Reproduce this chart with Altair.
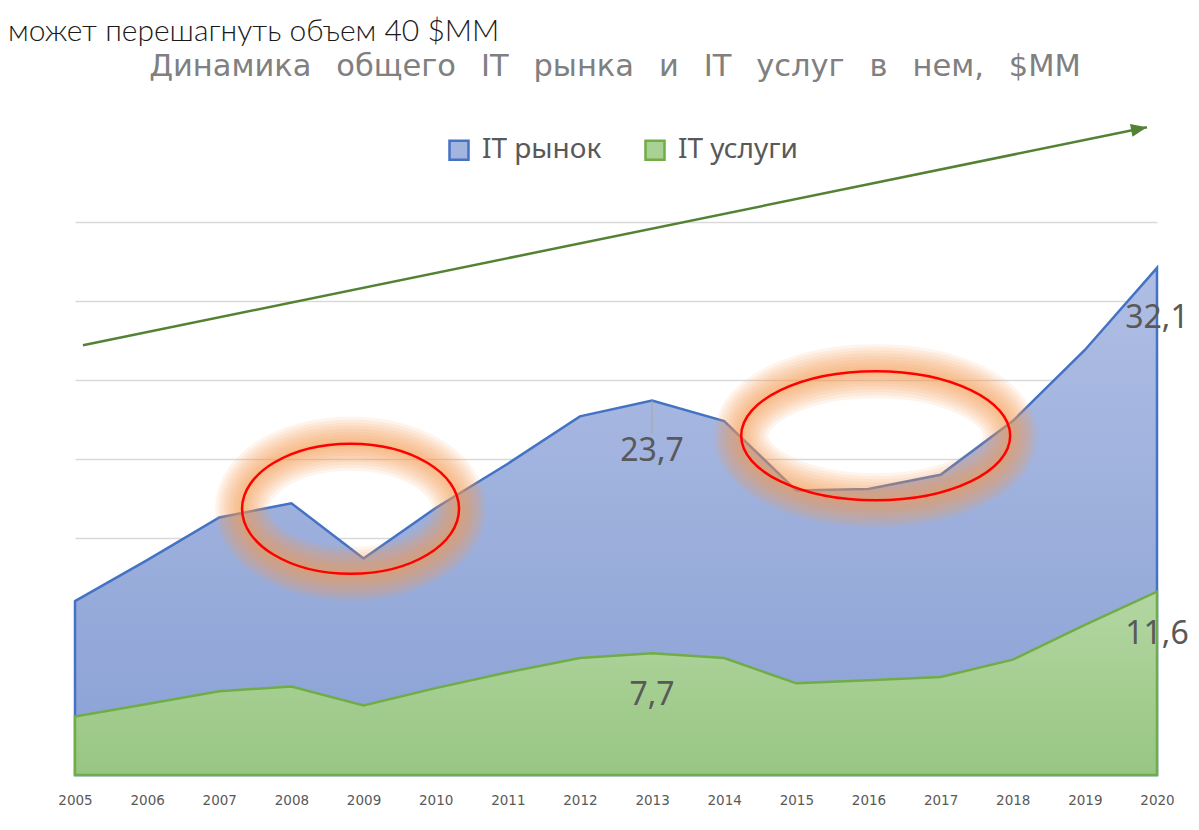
import altair as alt
import pandas as pd

years = list(range(2005, 2021))
it_market = [11.0, 13.6, 16.3, 17.2, 13.7, 16.9, 19.7, 22.7, 23.7, 22.4, 18.0, 18.1, 19.0, 22.4, 26.9, 32.1]
it_services = [3.7, 4.5, 5.3, 5.6, 4.4, 5.5, 6.5, 7.4, 7.7, 7.4, 5.8, 6.0, 6.2, 7.3, 9.5, 11.6]
series_names = ["IT рынок", "IT услуги"]
label_years = [2013, 2020]

title_text = "\u00a0\u2002".join("Динамика общего IT рынка и IT услуг в нем, $MM".split(" "))
top_text = "может перешагнуть объем 40 $ММ"

# trend arrow (annotation) start / tip in data units
arrow_x = [2005.11, 2019.86]
arrow_y = [27.2, 41.0]
# highlight ellipses (annotation) centres in data units
ell1 = {"x": [2008.82], "y": [16.85]}
ell2 = {"x": [2016.1], "y": [21.47]}

market_df = pd.DataFrame({"year": years, "value": it_market})
services_df = pd.DataFrame({"year": years, "value": it_services})

X = alt.X("year:Q", scale=alt.Scale(domain=[2005, 2020], nice=False, zero=False),
          axis=alt.Axis(values=years, format="d", title=None, grid=False, ticks=False,
                        labelFont="DejaVu Sans", labelFontSize=13.5, labelColor="#595959",
                        labelFlush=False, labelOverlap=False, labelBound=False,
                        labelPadding=18, domainColor="#d9d9d9", domainWidth=1.5))
Y = alt.Y("value:Q", scale=alt.Scale(domain=[0, 35], nice=False),
          axis=alt.Axis(values=[0, 5, 10, 15, 20, 25, 30, 35], title=None, labels=False,
                        ticks=False, domain=False, grid=True, gridColor="#d9d9d9", gridWidth=1.5))

blue_grad = alt.Gradient(gradient="linear", x1=0, x2=0, y1=0, y2=1,
                         stops=[alt.GradientStop(color="#afbee4", offset=0),
                                alt.GradientStop(color="#8aa1d5", offset=1)])
green_grad = alt.Gradient(gradient="linear", x1=0, x2=0, y1=0, y2=1,
                          stops=[alt.GradientStop(color="#b3d6a2", offset=0),
                                 alt.GradientStop(color="#98c682", offset=1)])

market_area = alt.Chart(market_df).mark_area(
    fill=blue_grad, stroke="#4472c4", strokeWidth=2.5, opacity=1
).encode(x=X, y=Y)

services_area = alt.Chart(services_df).mark_area(
    fill=green_grad, stroke="#70ad47", strokeWidth=2.5, opacity=1
).encode(x="year:Q", y="value:Q")

leg = alt.Legend(title=None, orient="none", legendX=370, legendY=-86, direction="horizontal",
                 symbolType="square", symbolSize=361, symbolStrokeWidth=2.5,
                 labelFont="Noto Sans", labelFontSize=28, labelColor="#595959",
                 labelOffset=9, columnPadding=38, padding=0, symbolOpacity=1)
legend_df = pd.DataFrame({"series": series_names, "year": [2005, 2005], "value": [0, 0]})
legend_layer = alt.Chart(legend_df).transform_filter("false").mark_point(
    filled=True, shape="square", opacity=1
).encode(
    x="year:Q", y="value:Q",
    fill=alt.Fill("series:N", scale=alt.Scale(domain=series_names, range=["#a3b4df", "#a9d195"]), legend=leg),
    stroke=alt.Stroke("series:N", scale=alt.Scale(domain=series_names, range=["#4472c4", "#70ad47"]), legend=leg),
)

label_expr = "replace(format(datum.value, '.1f'), '.', ',')"
market_labels = alt.Chart(market_df).transform_filter(
    alt.FieldOneOfPredicate(field="year", oneOf=label_years)
).transform_calculate(lbl=label_expr).mark_text(
    font="Noto Sans", fontSize=32, color="#595959", dy=50, baseline="middle", align="center"
).encode(x="year:Q", y="value:Q", text="lbl:N")

services_labels = alt.Chart(services_df).transform_filter(
    alt.FieldOneOfPredicate(field="year", oneOf=label_years)
).transform_calculate(lbl=label_expr).mark_text(
    font="Noto Sans", fontSize=32, color="#595959", dy=42, baseline="middle", align="center"
).encode(x="year:Q", y="value:Q", text="lbl:N")

leader = alt.Chart(market_df).transform_filter(
    alt.FieldEqualPredicate(field="year", equal=2013)
).transform_calculate(v2="datum.value - 2.1").mark_rule(
    color="#a6a6a6", strokeWidth=1
).encode(x="year:Q", y="value:Q", y2="v2:Q")

arrow_df = pd.DataFrame({"year": arrow_x, "value": arrow_y})
arrow_line = alt.Chart(arrow_df).mark_line(color="#548235", strokeWidth=2.5).encode(
    x="year:Q", y="value:Q")
arrow_head = alt.Chart(arrow_df.iloc[[1]]).mark_point(
    shape="M 0 0 L -2 -0.8 L -2 0.8 Z", size=256, filled=True, color="#548235",
    opacity=1, angle=348.5
).encode(x="year:Q", y="value:Q")


def ellipse_layers(d, ratio, width_px):
    df = pd.DataFrame({"year": d["x"], "value": d["y"]})
    path = f"M -1 0 A 1 {ratio} 0 1 1 1 0 A 1 {ratio} 0 1 1 -1 0 Z"
    size = width_px ** 2
    layers = []
    for sw in [54, 48, 42, 36, 30, 24, 18, 12, 6]:
        layers.append(alt.Chart(df).mark_point(
            shape=path, size=size, filled=False, stroke="#f39a50", strokeWidth=sw,
            strokeOpacity=0.11, opacity=1, fillOpacity=0
        ).encode(x="year:Q", y="value:Q"))
    layers.append(alt.Chart(df).mark_point(
        shape=path, size=size, filled=False, stroke="#ff0000", strokeWidth=2.5,
        opacity=1, fillOpacity=0
    ).encode(x="year:Q", y="value:Q"))
    return layers


ell_layers = ellipse_layers(ell1, 0.6, 217) + ellipse_layers(ell2, 0.48, 269)

title_layer = alt.Chart(pd.DataFrame({"t": [title_text]})).mark_text(
    font="DejaVu Sans", fontSize=30.5, color="#808080", align="center", baseline="alphabetic"
).encode(text="t:N", x=alt.value(540), y=alt.value(-146))

top_layer = alt.Chart(pd.DataFrame({"t": [top_text]})).mark_text(
    font="Lato", fontWeight=300, fontSize=30, color="#1a1a1a", align="left", baseline="alphabetic"
).encode(text="t:N", x=alt.value(-67), y=alt.value(-181))

chart = alt.layer(
    market_area, services_area, legend_layer, leader, market_labels, services_labels,
    arrow_line, arrow_head, *ell_layers, title_layer, top_layer
).properties(
    width=1082, height=553, autosize="none", background="white",
    padding={"left": 67, "top": 214, "right": 34, "bottom": 47},
).configure_view(stroke=None, strokeWidth=0)

chart.save("out.html", embed_options={"renderer": "svg", "actions": False})
